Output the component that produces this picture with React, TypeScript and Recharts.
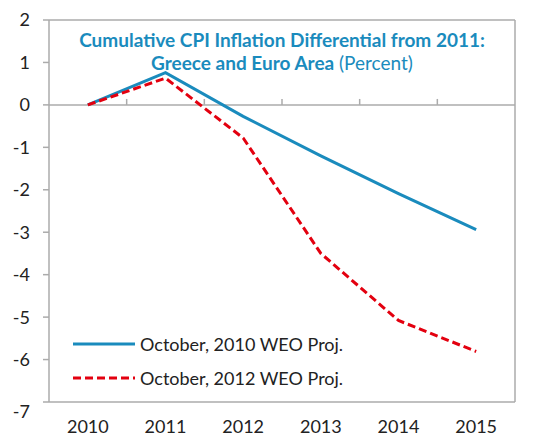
import { LineChart, Line, XAxis, YAxis, ReferenceLine } from 'recharts';

const years = ['2010', '2011', '2012', '2013', '2014', '2015'];
const oct2010 = [0, 0.76, -0.27, -1.2, -2.09, -2.94];
const oct2012 = [0, 0.63, -0.78, -3.5, -5.08, -5.81];
const yTicks = [-7, -6, -5, -4, -3, -2, -1, 0, 1, 2];

const data = years.map((year, i) => ({ x: i, year, oct2010: oct2010[i], oct2012: oct2012[i] }));
// category boundaries, where the small ticks on the zero line sit
const boundaries = years.slice(1).map((_, i) => i + 0.5);

const BLUE = '#1a8bbd';
const RED = '#e3000f';
const GREY = '#ababab';
const FONT = 'Lato, "Open Sans", sans-serif';
const FS = 18;

const LeftTick = (props: any) => {
    const { x, y, payload } = props;
    return (
        <text x={x} y={y + (payload.value === -7 ? 10 : 0)} dy="0.355em" textAnchor="end" fontSize={FS} fill="#222" fontFamily={FONT}>
            {payload.value}
        </text>
    );
};

const RightTick = (props: any) => {
    const { x, y, payload } = props;
    return (
        <g>
            <line x1={x - 24} x2={x - 18} y1={y} y2={y} stroke={GREY} strokeWidth={1.5} />
            <text x={x} y={y} dy="0.355em" textAnchor="start" fontSize={FS} fill="#222" fontFamily={FONT}>
                {payload.value}
            </text>
        </g>
    );
};

const legendItems = [
    { label: 'October, 2010 WEO Proj.', color: BLUE, dash: undefined },
    { label: 'October, 2012 WEO Proj.', color: RED, dash: '8 4' },
];

export default function App() {
    return (
        <div style={{ position: 'relative', width: 550, height: 437, background: '#fff' }}>
            <style>{'body{margin:0}'}</style>
            <LineChart width={550} height={437} data={data} margin={{ top: 20, right: 0, bottom: 0, left: 0 }}>
                <XAxis
                    type="number"
                    dataKey="x"
                    domain={[-0.5, 5.5]}
                    ticks={[0, 1, 2, 3, 4, 5]}
                    tickFormatter={(i) => years[i]}
                    height={35}
                    tickSize={0}
                    tickMargin={18}
                    tickLine={false}
                    axisLine={{ stroke: GREY, strokeWidth: 1.5 }}
                    tick={{ fontSize: FS, fill: '#222', fontFamily: FONT }}
                />
                <YAxis
                    yAxisId="left"
                    domain={[-7, 2]}
                    ticks={yTicks}
                    width={49}
                    tickSize={6}
                    tickMargin={13}
                    tickLine={{ stroke: GREY, strokeWidth: 1.5 }}
                    axisLine={{ stroke: GREY, strokeWidth: 1.5 }}
                    tick={<LeftTick />}
                    interval={0}
                />
                <YAxis
                    yAxisId="right"
                    orientation="right"
                    domain={[-7, 2]}
                    ticks={yTicks}
                    width={35}
                    tickSize={0}
                    tickMargin={18}
                    tickLine={false}
                    axisLine={{ stroke: GREY, strokeWidth: 1.5 }}
                    tick={<RightTick />}
                    interval={0}
                />
                <ReferenceLine yAxisId="left" y={2} stroke={GREY} strokeWidth={1.5} />
                <ReferenceLine yAxisId="left" y={0} stroke={GREY} strokeWidth={1.5} />
                {boundaries.map((b) => (
                    <ReferenceLine
                        key={b}
                        yAxisId="left"
                        segment={[{ x: b, y: 0 }, { x: b, y: 0.14 }]}
                        stroke={GREY}
                        strokeWidth={1.5}
                    />
                ))}
                <Line
                    yAxisId="left"
                    type="linear"
                    dataKey="oct2010"
                    name="October, 2010 WEO Proj."
                    stroke={BLUE}
                    strokeWidth={3}
                    dot={false}
                    isAnimationActive={false}
                />
                <Line
                    yAxisId="left"
                    type="linear"
                    dataKey="oct2012"
                    name="October, 2012 WEO Proj."
                    stroke={RED}
                    strokeWidth={3}
                    strokeDasharray="8 4"
                    dot={false}
                    isAnimationActive={false}
                />
            </LineChart>
            <div style={{ position: 'absolute', left: 73, top: 327, fontFamily: FONT, fontSize: FS, color: '#222' }}>
                {legendItems.map((item) => (
                    <div key={item.label} style={{ display: 'flex', alignItems: 'center', height: 34 }}>
                        <svg width={67} height={10}>
                            <line x1={0} x2={62} y1={5} y2={5} stroke={item.color} strokeWidth={3} strokeDasharray={item.dash} />
                        </svg>
                        <span>{item.label}</span>
                    </div>
                ))}
            </div>
            <div
                style={{
                    position: 'absolute',
                    left: 49,
                    width: 466,
                    top: 28,
                    textAlign: 'center',
                    color: BLUE,
                    fontFamily: FONT,
                    fontSize: 19,
                    lineHeight: '23px',
                }}
            >
                <div style={{ fontWeight: 'bold' }}>Cumulative CPI Inflation Differential from 2011:</div>
                <div>
                    <span style={{ fontWeight: 'bold' }}>Greece and Euro Area</span> (Percent)
                </div>
            </div>
        </div>
    );
}
